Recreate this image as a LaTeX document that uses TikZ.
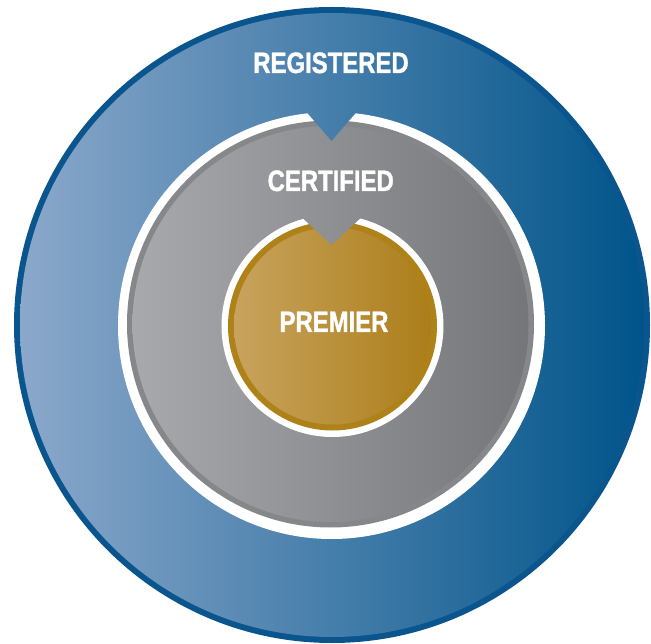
\documentclass[tikz,border=0pt]{standalone}
\usepackage{fontspec}
\newfontfamily\lblfont[FakeStretch=0.81,FakeBold=1.2]{Liberation Sans}
\definecolor{blueborder}{HTML}{0A558E}
\definecolor{bluelight}{HTML}{8BA8CB}
\definecolor{bluedark}{HTML}{00548A}
\definecolor{grayborder}{HTML}{86878B}
\definecolor{graylight}{HTML}{A8A9AD}
\definecolor{graydark}{HTML}{75767A}
\definecolor{goldborder}{HTML}{AE8219}
\definecolor{goldlight}{HTML}{C8A35D}
\definecolor{golddark}{HTML}{AC7E1A}
\tikzset{
  lbl/.style={text=white, anchor=base, inner sep=0pt, font=\lblfont\bfseries\fontsize{29.5}{30}\selectfont},
  blueshade/.style={left color=bluelight, right color=bluedark},
  grayshade/.style={left color=graylight, right color=graydark},
  goldshade/.style={left color=goldlight, right color=golddark}
}
\begin{document}
\begin{tikzpicture}[x=1pt,y=-1pt]
\useasboundingbox (0,0) rectangle (651,644);
% outer registered disc
\fill[blueborder] (332,325) circle[radius=318pt];
\shade[blueshade] (332,325) circle[radius=312pt];
% white ring + certified disc
\fill[white] (331.5,325.5) circle[radius=213.5pt];
\fill[grayborder] (330.5,324) circle[radius=203.5pt];
\shade[grayshade] (330.5,324) circle[radius=198pt];
% blue notch
\begin{scope}
  \clip (291.8,95) -- (371.2,95) -- (331.5,141) -- cycle;
  \shade[blueshade] (332,325) circle[radius=312pt];
\end{scope}
% white ring + premier disc
\fill[white] (332.5,326) circle[radius=111pt];
\fill[goldborder] (332.5,326) circle[radius=104.5pt];
\shade[goldshade] (332.5,326) circle[radius=98.5pt];
% gray notch
\begin{scope}
  \clip (283,200) -- (380,200) -- (331.7,245) -- cycle;
  \shade[grayshade] (330.5,324) circle[radius=198pt];
\end{scope}
% labels
\node[lbl] (registered) at (331,73) {REGISTERED};
\node[lbl] (certified) at (330.7,191) {CERTIFIED};
\node[lbl] (premier) at (334,332) {PREMIER};
\end{tikzpicture}
\end{document}
